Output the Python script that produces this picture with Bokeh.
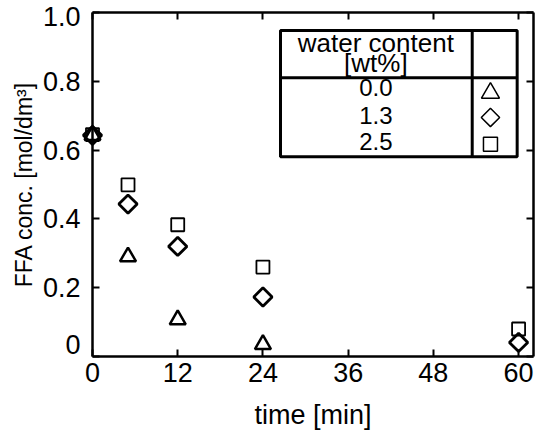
import math
from bokeh.plotting import figure
from bokeh.models import Range1d, LinearAxis, FixedTicker, BoxAnnotation
from bokeh.core.properties import value
from bokeh.embed import file_html
from bokeh.resources import INLINE

# ---------------- data ----------------
time_0 = [0, 5, 12, 24]
ffa_00 = [0.643, 0.290, 0.107, 0.035]         # 0.0 wt% water
time_13 = [0, 5, 12, 24, 60]
ffa_13 = [0.643, 0.443, 0.320, 0.173, 0.041]  # 1.3 wt% water
time_25 = [0, 5, 12, 24, 60]
ffa_25 = [0.645, 0.499, 0.383, 0.260, 0.080]  # 2.5 wt% water

x_ticks = [0, 12, 24, 36, 48, 60]
y_ticks = [0, 0.2, 0.4, 0.6, 0.8, 1.0]
y_tick_labels = {0: "", 0.2: "0.2", 0.4: "0.4", 0.6: "0.6", 0.8: "0.8", 1.0: ""}
y_end_labels = ["0", "1.0"]          # drawn nudged inward, as in the original
y_end_label_pos = [0.035, 0.987]
legend_values = ["0.0", "1.3", "2.5"]
legend_title = ["water content", "[wt%]"]

FONT = "Liberation Sans"

p = figure(width=536, height=432, output_backend="svg", toolbar_location=None,
           x_range=Range1d(0, 62.1), y_range=Range1d(0, 1.0),
           min_border_left=92, min_border_right=3, min_border_top=12,
           min_border_bottom=75)
p.outline_line_color = None
p.xgrid.grid_line_color = None
p.ygrid.grid_line_color = None
p.background_fill_color = "white"
p.border_fill_color = "white"


def style_axis(ax, labels=True, ticks=None):
    ax.axis_line_width = 2.5
    ax.axis_line_color = "black"
    ax.major_tick_in = 7
    ax.major_tick_out = 0
    ax.major_tick_line_width = 2
    ax.major_tick_line_color = "black"
    ax.minor_tick_line_color = None
    if labels:
        ax.major_label_text_font = FONT
        ax.major_label_text_font_size = "27px"
        ax.major_label_text_color = "black"
    else:
        ax.major_label_overrides = {t: "" for t in ticks}
        ax.major_label_text_font_size = "1px"
        ax.major_label_standoff = 0


xa = p.xaxis[0]
xa.ticker = FixedTicker(ticks=x_ticks)
style_axis(xa)
xa.major_label_standoff = 6
xa.axis_label = "time [min]"
xa.axis_label_text_font = FONT
xa.axis_label_text_font_size = "27px"
xa.axis_label_text_font_style = "normal"
xa.axis_label_text_color = "black"
xa.axis_label_standoff = 15

ya = p.yaxis[0]
ya.ticker = FixedTicker(ticks=y_ticks)
style_axis(ya)
ya.major_label_overrides = y_tick_labels
ya.major_label_standoff = 12
ya.axis_label = "FFA conc. [mol/dm³]"
ya.axis_label_text_font = FONT
ya.axis_label_text_font_size = "23px"
ya.axis_label_text_font_style = "normal"
ya.axis_label_text_color = "black"
ya.axis_label_standoff = 3

top = LinearAxis(ticker=FixedTicker(ticks=x_ticks))
style_axis(top, labels=False, ticks=x_ticks)
p.add_layout(top, "above")
right = LinearAxis(ticker=FixedTicker(ticks=y_ticks))
style_axis(right, labels=False, ticks=y_ticks)
p.add_layout(right, "right")

# nudged "0" and "1.0" tick labels of the y axis
rt = p.text(x=[0, 0], y=y_end_label_pos, text=y_end_labels, x_offset=-12,
            text_align="right", text_baseline="middle", text_font=value(FONT),
            text_font_size="27px", text_color="black")
rt.level = "overlay"

# ---------------- data markers ----------------
r1 = p.scatter(time_0, ffa_00, marker="triangle", size=16, fill_color=None,
               line_color="black", line_width=2.5)
r2 = p.scatter(time_13, ffa_13, marker="square", angle=math.pi / 4, size=13,
               fill_color=None, line_color="black", line_width=2.8)
r3 = p.scatter(time_25, ffa_25, marker="square", size=13, fill_color=None,
               line_color="black", line_width=1.8)
for r in (r1, r2, r3):
    r.level = "overlay"

# ---------------- legend table ----------------
L, R, T, B = 26.47, 59.80, 0.948, 0.581
XDIV, YDIV = 53.47, 0.810
p.add_layout(BoxAnnotation(left=L, right=R, top=T, bottom=B, fill_color=None,
                           line_color="black", line_alpha=1.0, line_width=3,
                           level="overlay"))
p.segment(x0=[XDIV, L], y0=[T, YDIV], x1=[XDIV, R], y1=[B, YDIV],
          line_color="black", line_width=3)

p.text(x=[39.9, 39.9], y=[0.912, 0.853], text=legend_title,
       text_font=value(FONT), text_font_size="26px", text_align="center",
       text_baseline="middle", text_line_height=1.0, text_color="black")
p.text(x=[39.9] * 3, y=[0.783, 0.701, 0.626], text=legend_values,
       text_font=value(FONT), text_font_size="24px", text_align="center",
       text_baseline="middle", text_color="black")
mx = 56.04
p.scatter([mx], [0.766], marker="triangle", size=18, fill_color=None,
          line_color="black", line_width=1.5)
p.scatter([mx], [0.695], marker="square", angle=math.pi / 4, size=13,
          fill_color=None, line_color="black", line_width=1.5)
p.scatter([mx], [0.617], marker="square", size=14, fill_color=None,
          line_color="black", line_width=1.5)

open("out.html", "w").write(file_html(p, INLINE))
